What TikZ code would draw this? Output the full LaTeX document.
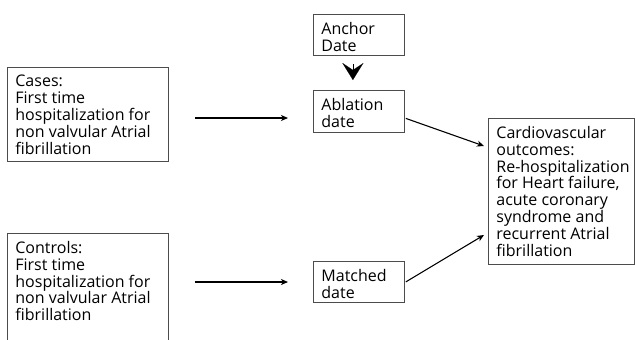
\documentclass[tikz,border=0pt]{standalone}
\usepackage{fontspec}
\setmainfont{Open Sans}
\usetikzlibrary{arrows.meta,calc}
\newcommand\boxtxt[3]{\parbox[t][#2bp][t]{#1bp}{\raggedright #3}}
\begin{document}
\begin{tikzpicture}[x=1bp,y=-1bp,
  box/.style={draw=black!70, line width=0.8bp, inner xsep=8bp, inner ysep=8bp, anchor=north west,
    font=\fontsize{16bp}{16.8bp}\selectfont},
  arr/.style={line width=1.1bp, -{Stealth[length=7bp,width=6bp,inset=2bp]}},
  bigarr/.style={line width=0.1bp, -{Stealth[length=17bp,width=21bp,inset=7bp]}}]
\useasboundingbox (0,0) rectangle (635,339);
\clip (0,0) rectangle (635,339);
\node[box] (cases) at (7,67) {\boxtxt{145}{78}{Cases:\\First time\\hospitalization for\\non valvular Atrial\\fibrillation}};
\node[box] (controls) at (7,233) {\boxtxt{145}{120}{Controls:\\First time\\hospitalization for\\non valvular Atrial\\fibrillation}};
\node[box] (anchor) at (313,14) {\boxtxt{75}{25}{Anchor\\Date}};
\node[box] (ablation) at (313,90) {\boxtxt{75}{26}{Ablation\\date}};
\node[box] (matched) at (313,261) {\boxtxt{75}{25}{Matched\\date}};
\node[box] (cardio) at (488,118) {\boxtxt{130}{130}{Cardiovascular\\outcomes:\\\mbox{Re-hospitalization}\\for Heart failure,\\acute coronary\\syndrome and\\recurrent Atrial\\fibrillation}};
\draw[arr, shorten <=26bp, shorten >=25bp] (cases.east |- 0,118) -- (ablation.west |- 0,118);
\draw[arr, shorten <=26bp, shorten >=25bp] (controls.east |- 0,282) -- (matched.west |- 0,282);
\draw[bigarr, shorten <=8bp, shorten >=10bp] ([xshift=-6bp]anchor.south) -- ([xshift=-6bp]ablation.north);
\draw[arr] ([xshift=1bp,yshift=-7bp]ablation.east) -- ($(cardio.north west)+(-4,28)$);
\draw[arr] ([xshift=1bp]matched.east) -- ($(cardio.north west)+(-4,117)$);
\end{tikzpicture}
\end{document}
